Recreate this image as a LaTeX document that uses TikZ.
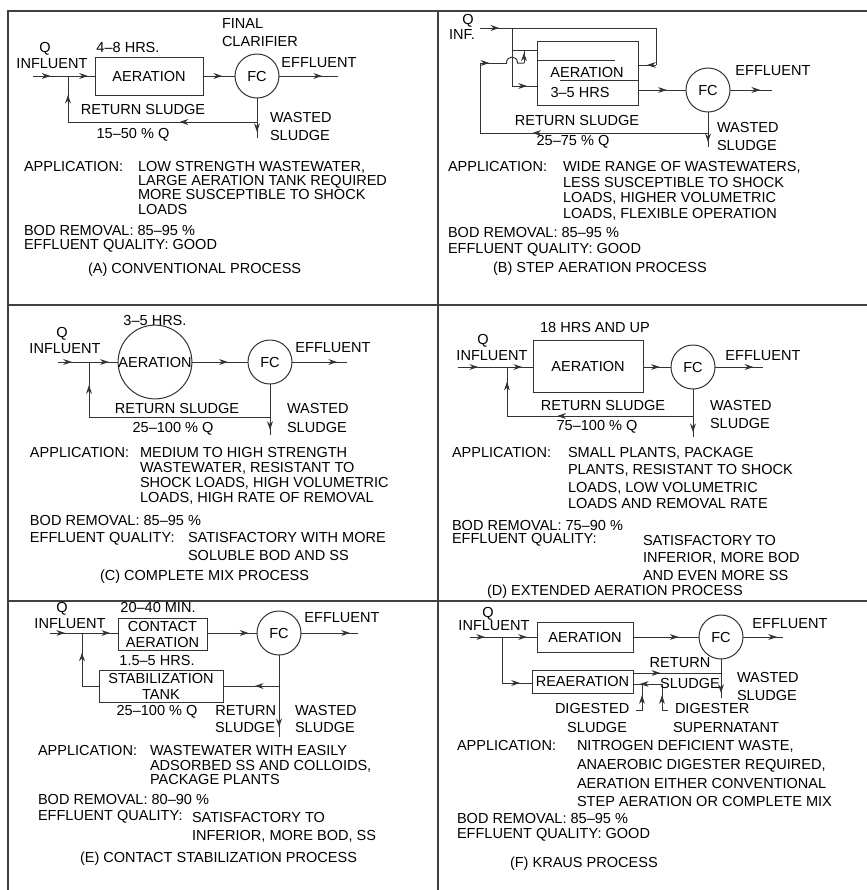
\documentclass[tikz,border=0pt]{standalone}
\usepackage{fontspec}
\setmainfont{Liberation Sans}
\usetikzlibrary{arrows.meta,decorations.markings}
\begin{document}
\begin{tikzpicture}[x=0.75pt,y=-0.75pt,
  every node/.style={font=\fontsize{10.9}{12}\selectfont, inner sep=0pt, outer sep=0pt, text=black},
  ln/.style={draw=black!80, line width=0.75pt},
  marr/.style={postaction={decorate,decoration={markings,mark=at position #1 with {\arrow{Stealth[length=6.5pt,width=4.4pt]}}}}},
  marr/.default=0.5,
  tank/.style={draw=black!80, line width=0.75pt, rectangle, align=center},
  fc/.style={draw=black!80, line width=0.75pt, circle, minimum size=33pt},
  txc/.style={anchor=base},
  txl/.style={anchor=base west},
  txr/.style={anchor=base east},
  frame/.style={draw=black!75, line width=0.8pt}
]
\useasboundingbox (0,0) rectangle (867,890);
\fill[white] (0,0) rectangle (867,890);
% frame
\draw[frame] (8,890) -- (8,11) -- (867,11);
\draw[frame] (438,11) -- (438,890);
\draw[frame] (8,305) -- (867,305);
\draw[frame] (8,601) -- (867,601);

% ================= (A) =================
\coordinate (A-in) at (33,76);
\coordinate (A-j) at (68,76);
\node[tank, minimum width=81pt, minimum height=28.5pt] (A-aer) at (149,76) {AERATION};
\node[fc] (A-fc) at (257,76) {FC};
\coordinate (A-out) at (338,76);
\coordinate (A-ws) at (257,138);
\coordinate (A-r) at (257,122);
\coordinate (A-rl) at (68,122);
\draw[ln, marr=0.5] (A-in) -- (A-j);
\draw[ln, marr=0.74] (A-j) -- (A-aer.west);
\draw[ln, marr=0.6] (A-aer.east) -- (A-fc.west);
\draw[ln, marr=0.73] (A-fc.east) -- (A-out);
\draw[ln, marr=0.85] (A-fc.south) -- (A-ws);
\draw[ln, marr=0.41] (A-r) -- (A-rl);
\draw[ln, marr=0.59] (A-rl) -- (A-j);
\node[txc] (A-q) at (45,52) {Q};
\node[txc] (A-inf) at (52,68) {INFLUENT};
\node[txc] (A-hrs) at (128,52) {4–8 HRS.};
\node[txl] (A-fin) at (222,28) {FINAL};
\node[txl] (A-cla) at (222,46) {CLARIFIER};
\node[txc] (A-eff) at (319,67) {EFFLUENT};
\node[txc] (A-ret) at (143,114) {RETURN SLUDGE};
\node[txc] (A-pct) at (133,138) {15–50 \% Q};
\node[txl] (A-was) at (270,122) {WASTED};
\node[txl] (A-slu) at (270,140) {SLUDGE};
\node[txl] (A-app) at (24,171) {APPLICATION:};
\node[txl] (A-a1) at (138,171) {LOW STRENGTH WASTEWATER,};
\node[txl] (A-a2) at (138,185) {LARGE AERATION TANK REQUIRED};
\node[txl] (A-a3) at (138,199) {MORE SUSCEPTIBLE TO SHOCK};
\node[txl] (A-a4) at (138,214) {LOADS};
\node[txl] (A-bod) at (24,235) {BOD REMOVAL: 85–95 \%};
\node[txl] (A-eq) at (24,249) {EFFLUENT QUALITY: GOOD};
\node[txl] (A-tit) at (88,273) {(A) CONVENTIONAL PROCESS};

% ================= (B) =================
\coordinate (B-in) at (480,28);
\coordinate (B-j1) at (512,28);
\coordinate (B-tr) at (656,28);
\coordinate (B-rr) at (656,65);
\coordinate (B-j2) at (512,50);
\coordinate (B-j3) at (512,86);
\node[tank, minimum width=75.75pt, minimum height=48pt] (B-aer) at (587.5,73) {};
\node[fc] (B-fc) at (708,90) {FC};
\coordinate (B-out) at (772,90);
\coordinate (B-ws) at (708,147);
\coordinate (B-r) at (708,133);
\coordinate (B-rl) at (480,133);
\coordinate (B-ru) at (480,63);
\coordinate (B-h1) at (506.5,63);
\coordinate (B-h2) at (517.5,63);
\coordinate (B-k) at (524,63);
\coordinate (B-ku) at (524,50);
\coordinate (B-b1a) at (537,60);
\coordinate (B-b1b) at (615,60);
\coordinate (B-b2a) at (560,80);
\coordinate (B-b2b) at (638,80);
\draw[ln] (B-b1a) -- (B-b1b);
\draw[ln] (B-b2a) -- (B-b2b);
\draw[ln, marr=0.6] (B-in) -- (B-j1);
\draw[ln] (B-j1) -- (B-tr) -- (B-rr);
\draw[ln, marr=0.5] (B-rr) -- (B-aer.east |- B-rr);
\draw[ln] (B-j1) -- (B-j3);
\draw[ln] (B-j2) -- (B-aer.west |- B-j2);
\draw[ln, marr=0.6] (B-j3) -- (B-aer.west |- B-j3);
\draw[ln, marr=0.6] (B-aer.east |- B-fc.west) -- (B-fc.west);
\draw[ln, marr=0.72] (B-fc.east) -- (B-out);
\draw[ln, marr=0.86] (B-fc.south) -- (B-ws);
\draw[ln, marr=0.77] (B-r) -- (B-rl);
\draw[ln] (B-rl) -- (B-ru);
\draw[ln, marr=0.35] (B-ru) -- (B-h1);
\draw[ln] (B-h1) .. controls (506.5,55) and (517.5,55) .. (B-h2) -- (B-k);
\draw[ln, marr=0.8] (B-k) -- (B-ku);
\node[txc] (B-aert) at (587,77) {AERATION};
\node[txc] (B-hrs) at (580,97) {3–5 HRS};
\node[txc] (B-q) at (468,24) {Q};
\node[txc] (B-inf) at (462,39) {INF.};
\node[txc] (B-eff) at (773,75) {EFFLUENT};
\node[txc] (B-ret) at (577,125) {RETURN SLUDGE};
\node[txc] (B-pct) at (573,145) {25–75 \% Q};
\node[txl] (B-was) at (717,132) {WASTED};
\node[txl] (B-slu) at (717,150) {SLUDGE};
\node[txl] (B-app) at (448,171) {APPLICATION:};
\node[txl] (B-a1) at (563,171) {WIDE RANGE OF WASTEWATERS,};
\node[txl] (B-a2) at (563,187) {LESS SUSCEPTIBLE TO SHOCK};
\node[txl] (B-a3) at (563,202) {LOADS, HIGHER VOLUMETRIC};
\node[txl] (B-a4) at (563,218) {LOADS, FLEXIBLE OPERATION};
\node[txl] (B-bod) at (448,237) {BOD REMOVAL: 85–95 \%};
\node[txl] (B-eq) at (448,253) {EFFLUENT QUALITY: GOOD};
\node[txl] (B-tit) at (493,272) {(B) STEP AERATION PROCESS};

% ================= (C) =================
\coordinate (C-in) at (58,362);
\coordinate (C-j) at (89,362);
\node[draw=black!80, line width=0.75pt, circle, minimum size=53.25pt] (C-aer) at (155,362) {AERATION};
\node[fc] (C-fc) at (270,362) {FC};
\coordinate (C-out) at (347,362);
\coordinate (C-ws) at (270,435);
\coordinate (C-r) at (270,417);
\coordinate (C-rl) at (89,417);
\draw[ln, marr=0.45] (C-in) -- (C-j);
\draw[ln, marr=0.68] (C-j) -- (C-aer.west);
\draw[ln, marr=0.64] (C-aer.east) -- (C-fc.west);
\draw[ln, marr=0.82] (C-fc.east) -- (C-out);
\draw[ln, marr=0.9] (C-fc.south) -- (C-ws);
\draw[ln] (C-r) -- (C-rl);
\draw[ln, marr=0.58] (C-rl) -- (C-j);
\node[txc] (C-hrs) at (155,325) {3–5 HRS.};
\node[txc] (C-q) at (62,337) {Q};
\node[txc] (C-inf) at (65,353) {INFLUENT};
\node[txc] (C-eff) at (333,352) {EFFLUENT};
\node[txc] (C-ret) at (177,413) {RETURN SLUDGE};
\node[txc] (C-pct) at (173,432) {25–100 \% Q};
\node[txl] (C-was) at (287,413) {WASTED};
\node[txl] (C-slu) at (287,432) {SLUDGE};
\node[txl] (C-app) at (30,457) {APPLICATION:};
\node[txl] (C-a1) at (140,457) {MEDIUM TO HIGH STRENGTH};
\node[txl] (C-a2) at (140,472) {WASTEWATER, RESISTANT TO};
\node[txl] (C-a3) at (140,487) {SHOCK LOADS, HIGH VOLUMETRIC};
\node[txl] (C-a4) at (140,502) {LOADS, HIGH RATE OF REMOVAL};
\node[txl] (C-bod) at (30,525) {BOD REMOVAL: 85–95 \%};
\node[txl] (C-eq) at (30,542) {EFFLUENT QUALITY:};
\node[txl] (C-e1) at (188,542) {SATISFACTORY WITH MORE};
\node[txl] (C-e2) at (188,560) {SOLUBLE BOD AND SS};
\node[txl] (C-tit) at (100,580) {(C) COMPLETE MIX PROCESS};

% ================= (D) =================
\coordinate (D-in) at (458,367);
\coordinate (D-j) at (507,367);
\node[tank, minimum width=82.5pt, minimum height=39pt] (D-aer) at (588,366) {AERATION};
\node[fc] (D-fc) at (693,367) {FC};
\coordinate (D-out) at (763,367);
\coordinate (D-ws) at (693,437);
\coordinate (D-r) at (693,416);
\coordinate (D-rl) at (507,416);
\draw[ln, marr=0.41] (D-in) -- (D-j);
\draw[ln, marr=0.58] (D-j) -- (D-aer.west |- D-j);
\draw[ln, marr=0.6] (D-aer.east |- D-fc.west) -- (D-fc.west);
\draw[ln, marr=0.8] (D-fc.east) -- (D-out);
\draw[ln, marr=0.9] (D-fc.south) -- (D-ws);
\draw[ln, marr=0.73] (D-r) -- (D-rl);
\draw[ln, marr=0.7] (D-rl) -- (D-j);
\node[txc] (D-hrs) at (595,332) {18 HRS AND UP};
\node[txc] (D-q) at (483,344) {Q};
\node[txc] (D-inf) at (492,360) {INFLUENT};
\node[txc] (D-eff) at (763,360) {EFFLUENT};
\node[txc] (D-ret) at (603,410) {RETURN SLUDGE};
\node[txc] (D-pct) at (597,430) {75–100 \% Q};
\node[txl] (D-was) at (710,410) {WASTED};
\node[txl] (D-slu) at (710,428) {SLUDGE};
\node[txl] (D-app) at (452,457) {APPLICATION:};
\node[txl] (D-a1) at (568,457) {SMALL PLANTS, PACKAGE};
\node[txl] (D-a2) at (568,474) {PLANTS, RESISTANT TO SHOCK};
\node[txl] (D-a3) at (568,492) {LOADS, LOW VOLUMETRIC};
\node[txl] (D-a4) at (568,508) {LOADS AND REMOVAL RATE};
\node[txl] (D-bod) at (452,530) {BOD REMOVAL: 75–90 \%};
\node[txl] (D-eq) at (452,543) {EFFLUENT QUALITY:};
\node[txl] (D-e1) at (643,545) {SATISFACTORY TO};
\node[txl] (D-e2) at (643,562) {INFERIOR, MORE BOD};
\node[txl] (D-e3) at (643,580) {AND EVEN MORE SS};
\node[txl] (D-tit) at (487,595) {(D) EXTENDED AERATION PROCESS};

% ================= (E) =================
\coordinate (E-in) at (50,633);
\coordinate (E-j) at (82,633);
\node[tank, minimum width=66.75pt, minimum height=24pt] (E-ca) at (162.5,634) {CONTACT\\AERATION};
\node[fc] (E-fc) at (279,633) {FC};
\coordinate (E-out) at (358,633);
\node[tank, minimum width=93pt, minimum height=24pt] (E-st) at (161,686) {STABILIZATION\\TANK};
\coordinate (E-ws) at (279,737);
\coordinate (E-r) at (279,686);
\coordinate (E-sl) at (82,686);
\draw[ln, marr=0.47] (E-in) -- (E-j);
\draw[ln, marr=0.78] (E-j) -- (E-ca.west |- E-j);
\draw[ln, marr=0.83] (E-ca.east |- E-fc.west) -- (E-fc.west);
\draw[ln, marr=0.86] (E-fc.east) -- (E-out);
\draw[ln, marr=0.88] (E-fc.south) -- (E-ws);
\draw[ln, marr=0.43] (E-r) -- (E-st.east);
\draw[ln] (E-st.west) -- (E-sl);
\draw[ln, marr=0.63] (E-sl) -- (E-j);
\node[txc] (E-q) at (62,612) {Q};
\node[txc] (E-inf) at (70,628) {INFLUENT};
\node[txc] (E-min) at (158,612) {20–40 MIN.};
\node[txc] (E-eff) at (342,622) {EFFLUENT};
\node[txc] (E-hrs) at (157,665) {1.5–5 HRS.};
\node[txc] (E-pct) at (157,715) {25–100 \% Q};
\node[txr] (E-ret) at (276,715) {RETURN};
\node[txr] (E-rsl) at (275,732) {SLUDGE};
\node[txl] (E-was) at (295,715) {WASTED};
\node[txl] (E-wsl) at (295,732) {SLUDGE};
\node[txl] (E-app) at (38,755) {APPLICATION:};
\node[txl] (E-a1) at (150,755) {WASTEWATER WITH EASILY};
\node[txl] (E-a2) at (150,770) {ADSORBED SS AND COLLOIDS,};
\node[txl] (E-a3) at (150,784) {PACKAGE PLANTS};
\node[txl] (E-bod) at (38,804) {BOD REMOVAL: 80–90 \%};
\node[txl] (E-eq) at (38,820) {EFFLUENT QUALITY:};
\node[txl] (E-e1) at (192,822) {SATISFACTORY TO};
\node[txl] (E-e2) at (192,840) {INFERIOR, MORE BOD, SS};
\node[txl] (E-tit) at (80,862) {(E) CONTACT STABILIZATION PROCESS};

% ================= (F) =================
\coordinate (F-in) at (470,637);
\coordinate (F-j) at (502,637);
\node[tank, minimum width=72pt, minimum height=22.5pt] (F-aer) at (585,637) {AERATION};
\node[fc] (F-fc) at (721,637) {FC};
\coordinate (F-out) at (783,637);
\coordinate (F-ws) at (721,698);
\node[tank, minimum width=75.75pt, minimum height=17.25pt] (F-rea) at (582.5,681.5) {REAERATION};
\coordinate (F-jl) at (502,683);
\coordinate (F-rt) at (721,673);
\coordinate (F-d1) at (642,684);
\coordinate (F-d2) at (642,710);
\coordinate (F-d3) at (636,710);
\coordinate (F-s0) at (668,710);
\coordinate (F-s1) at (662,710);
\coordinate (F-s2) at (662,684);
\draw[ln, marr=0.47] (F-in) -- (F-j);
\draw[ln, marr=0.71] (F-j) -- (F-aer.west);
\draw[ln, marr=0.69] (F-aer.east) -- (F-fc.west);
\draw[ln, marr=0.85] (F-fc.east) -- (F-out);
\draw[ln, marr=0.87] (F-fc.south) -- (F-ws);
\draw[ln] (F-j) -- (F-jl);
\draw[ln, marr=0.6] (F-jl) -- (F-rea.west |- F-jl);
\draw[ln, marr=0.31] (F-rea.east |- F-rt) -- (F-rt);
\draw[ln, marr=0.76] (F-s2) -- (F-rea.east |- F-s2);
\draw[ln, marr=0.65] (F-d3) -- (F-d2) -- (F-d1);
\draw[ln, marr=0.65] (F-s0) -- (F-s1) -- (F-s2);
\node[txc] (F-q) at (488,617) {Q};
\node[txc] (F-inf) at (494,630) {INFLUENT};
\node[txc] (F-eff) at (790,628) {EFFLUENT};
\node[txc] (F-ret) at (680,667) {RETURN};
\node[txc] (F-rsl) at (690,688) {SLUDGE};
\node[txl] (F-was) at (737,682) {WASTED};
\node[txl] (F-wsl) at (737,700) {SLUDGE};
\node[txl] (F-dig) at (555,713) {DIGESTED};
\node[txr] (F-dsl) at (627,732) {SLUDGE};
\node[txl] (F-dgr) at (675,713) {DIGESTER};
\node[txl] (F-sup) at (673,732) {SUPERNATANT};
\node[txl] (F-app) at (457,750) {APPLICATION:};
\node[txl] (F-a1) at (577,750) {NITROGEN DEFICIENT WASTE,};
\node[txl] (F-a2) at (577,769) {ANAEROBIC DIGESTER REQUIRED,};
\node[txl] (F-a3) at (577,788) {AERATION EITHER CONVENTIONAL};
\node[txl] (F-a4) at (577,806) {STEP AERATION OR COMPLETE MIX};
\node[txl] (F-bod) at (457,823) {BOD REMOVAL: 85–95 \%};
\node[txl] (F-eq) at (457,838) {EFFLUENT QUALITY: GOOD};
\node[txl] (F-tit) at (510,867) {(F) KRAUS PROCESS};
\end{tikzpicture}
\end{document}
